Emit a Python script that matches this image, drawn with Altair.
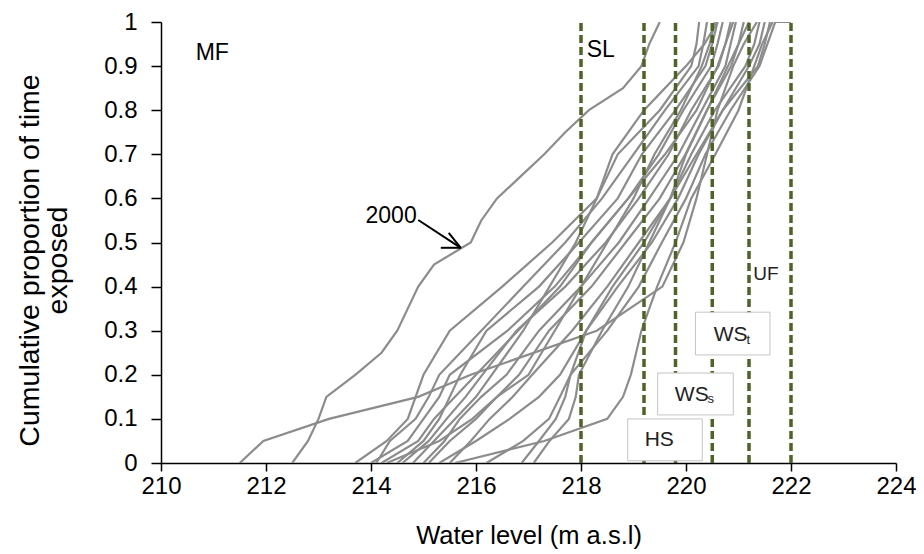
import altair as alt
import pandas as pd

# y levels (cumulative proportion) at which each curve's water level is read
Y14 = [0, 0.05, 0.1, 0.15, 0.2, 0.3, 0.4, 0.5, 0.6, 0.7, 0.8, 0.9, 0.95, 1.0]
Y21 = [0, 0.05, 0.1, 0.15, 0.2, 0.25, 0.3, 0.35, 0.4, 0.45, 0.5,
       0.55, 0.6, 0.65, 0.7, 0.75, 0.8, 0.85, 0.9, 0.95, 1.0]

# water level (m a.s.l) of each year's curve at those levels
c2000_x = [212.5, 212.8, 213.0, 213.15, 213.7, 214.2, 214.5, 214.7, 214.9, 215.2, 215.9,
           216.1, 216.4, 216.85, 217.3, 217.7, 218.15, 218.8, 219.15, 219.3, 219.5]
cB_x = [211.5, 211.95, 213.2, 214.9, 215.9, 218.3, 219.55, 219.95, 220.2, 220.4, 220.6, 220.9, 221.1, 221.35]
cC_x = [213.7, 214.3, 214.7, 214.85, 215.0, 215.5, 216.5, 217.45, 218.3, 218.7, 219.5, 220.1, 220.2, 220.25]
cD_x = [214.1, 214.36, 214.85, 215.1, 215.3, 216.1, 216.9, 217.7, 218.4, 219.0, 219.6, 220.24, 220.33, 220.4]
cE_x = [214.5, 215.0, 215.3, 215.5, 215.7, 216.2, 217.2, 217.96, 218.7, 219.16, 219.8, 220.37, 220.5, 220.6]
cF_x = [214.0, 214.7, 215.0, 215.3, 215.5, 216.6, 217.5, 218.2, 218.9, 219.48, 219.95, 220.48, 220.6, 220.7]
cG_x = [214.6, 215.1, 215.44, 215.8, 216.12, 216.77, 217.7, 218.47, 219.1, 219.67, 220.1, 220.62, 220.75, 220.85]
cH_x = [215.0, 215.4, 215.69, 216.1, 216.58, 217.2, 218.0, 218.72, 219.3, 219.86, 220.3, 220.75, 220.85, 220.95]
cI_x = [214.3, 215.3, 215.93, 216.4, 216.82, 217.39, 218.2, 218.85, 219.5, 219.99, 220.4, 220.86, 221.0, 221.1]
cJ_x = [215.5, 215.9, 216.26, 216.7, 217.07, 217.83, 218.5, 219.1, 219.7, 220.1, 220.55, 221.13, 221.3, 221.4]
cK_x = [215.3, 216.0, 216.64, 217.2, 217.6, 218.1, 218.7, 219.35, 219.85, 220.24, 220.7, 221.37, 221.5, 221.6]
cL_x = [216.2, 216.9, 217.39, 217.6, 217.8, 218.5, 219.1, 219.54, 220.0, 220.37, 220.85, 221.4, 221.55, 221.7, 222.0]
cL_y = [0, 0.05, 0.1, 0.15, 0.2, 0.3, 0.4, 0.5, 0.6, 0.7, 0.8, 0.9, 0.95, 1.0, 1.0]
cM_x = [215.6, 217.3, 218.5, 218.8, 218.95, 219.15, 219.45, 219.8, 220.1, 220.56, 221.0, 221.3, 221.45, 221.65]
cN_x = [216.87, 217.2, 217.52, 217.7, 217.8, 218.1, 218.6, 219.2, 219.7, 220.0, 220.4, 220.8, 221.0, 221.2]
cO_x = [214.8, 215.2, 215.6, 216.0, 216.3, 216.9, 217.4, 217.9, 218.3, 218.6, 219.2, 220.0, 220.35, 220.6]
cP_x = [214.2, 214.9, 215.2, 215.6, 216.0, 216.8, 217.6, 218.2, 218.9, 219.6, 220.2, 220.6, 220.75, 220.9]
cQ_x = [215.1, 215.5, 216.0, 216.4, 217.0, 217.5, 218.0, 218.5, 219.0, 219.4, 219.9, 220.3, 220.45, 220.55]
cR_x = [217.1, 217.4, 217.77, 217.9, 217.96, 218.4, 218.9, 219.3, 219.7, 220.2, 220.7, 221.2, 221.4, 221.5]

curves = {
    "2000": (c2000_x, Y21), "B": (cB_x, Y14), "C": (cC_x, Y14), "D": (cD_x, Y14),
    "E": (cE_x, Y14), "F": (cF_x, Y14), "G": (cG_x, Y14), "H": (cH_x, Y14),
    "I": (cI_x, Y14), "J": (cJ_x, Y14), "K": (cK_x, Y14), "L": (cL_x, cL_y),
    "M": (cM_x, Y14), "N": (cN_x, Y14), "O": (cO_x, Y14), "P": (cP_x, Y14),
    "Q": (cQ_x, Y14), "R": (cR_x, Y14),
}

# zone boundaries (dashed lines)
zone_x = [218.0, 219.2, 219.8, 220.5, 221.2, 222.0]

# labelled boxes
box_label = ["HS", "WS", "WS"]
box_sub = ["", "s", "t"]
box_x1 = [218.89, 219.46, 220.18]
box_x2 = [220.31, 220.90, 221.60]
box_y1 = [0.005, 0.109, 0.245]
box_y2 = [0.100, 0.204, 0.342]
box_tx = [219.49, 220.11, 220.85]
box_ty = [0.053, 0.155, 0.291]
sub_tx = [220.41, 221.15]
sub_ty = [0.136, 0.270]

# free labels
lab_text = ["MF", "SL"]
lab_x = [210.66, 218.11]
lab_y = [0.914, 0.92]

FONT = "Liberation Sans"
GRAY = "#8c8c8c"
GREEN = "#4f6228"

rows = []
for name, (xs, ys) in curves.items():
    for i, (xv, yv) in enumerate(zip(xs, ys)):
        rows.append({"curve": name, "i": i, "x": xv, "y": yv})
df = pd.DataFrame(rows)

xscale = alt.Scale(domain=[210, 224], nice=False, zero=False)
yscale = alt.Scale(domain=[0, 1], nice=False)

xaxis = alt.Axis(values=list(range(210, 225, 2)), format="d", title="Water level  (m a.s.l)",
                 grid=False, tickSize=8, labelFontSize=24, titleFontSize=25.5,
                 labelPadding=3, titleY=80, titleBaseline="alphabetic", labelFlush=False,
                 titleFontWeight="normal", labelFont=FONT, titleFont=FONT,
                 domainColor="black", tickColor="black", labelColor="black", titleColor="black")
yaxis = alt.Axis(values=[0, 0.1, 0.2, 0.3, 0.4, 0.5, 0.6, 0.7, 0.8, 0.9, 1.0], format=".1~f",
                 title=["Cumulative  proportion of time", "exposed"],
                 grid=False, tickSize=10, labelFontSize=24, titleFontSize=28.5, labelFlush=False,
                 labelPadding=14, titleX=-146, titleY=238, titleBaseline="top",
                 titleLineHeight=28, titleAngle=-90,
                 titleFontWeight="normal", labelFont=FONT, titleFont=FONT,
                 domainColor="black", tickColor="black", labelColor="black", titleColor="black")

lines = alt.Chart(df).mark_line(color=GRAY, strokeWidth=2.2, clip=True).encode(
    x=alt.X("x:Q", scale=xscale, axis=xaxis),
    y=alt.Y("y:Q", scale=yscale, axis=yaxis),
    detail="curve:N",
    order="i:Q",
)

zones = alt.Chart(pd.DataFrame({"x": zone_x})).mark_rule(
    color=GREEN, strokeWidth=3.5, strokeDash=[8, 4]).encode(
    x="x:Q", y=alt.datum(0), y2=alt.datum(1))

boxes_df = pd.DataFrame({"x1": box_x1, "x2": box_x2, "y1": box_y1, "y2": box_y2,
                         "tx": box_tx, "ty": box_ty, "label": box_label})
boxes = alt.Chart(boxes_df).mark_rect(fill="white", stroke="#c4c4c4", strokeWidth=1).encode(
    x="x1:Q", x2="x2:Q", y="y1:Q", y2="y2:Q")
box_text = alt.Chart(boxes_df).mark_text(font=FONT, fontSize=21, color="#222222",
                                         align="center", baseline="middle").encode(
    x="tx:Q", y="ty:Q", text="label:N")
sub_text = alt.Chart(pd.DataFrame({"x": sub_tx, "y": sub_ty, "t": box_sub[1:]})).mark_text(
    font=FONT, fontSize=13, color="#222222", align="left", baseline="alphabetic").encode(
    x="x:Q", y="y:Q", text="t:N")

labels = alt.Chart(pd.DataFrame({"x": lab_x, "y": lab_y, "t": lab_text})).mark_text(
    font=FONT, fontSize=23, color="black", align="left", baseline="alphabetic").encode(
    x="x:Q", y="y:Q", text="t:N")
uf = alt.Chart(pd.DataFrame({"x": [221.28], "y": [0.415], "t": ["UF"]})).mark_text(
    font=FONT, fontSize=19, color="#222222", align="left", baseline="alphabetic").encode(
    x="x:Q", y="y:Q", text="t:N")
yr = alt.Chart(pd.DataFrame({"x": [214.87], "y": [0.545], "t": ["2000"]})).mark_text(
    font=FONT, fontSize=23, color="black", align="right", baseline="alphabetic").encode(
    x="x:Q", y="y:Q", text="t:N")

# arrow pointing at the 2000 curve
arrow_df = pd.DataFrame({
    "x": [214.9, 215.48, 215.33], "y": [0.551, 0.522, 0.488],
    "x2": [215.71, 215.71, 215.71], "y2": [0.488, 0.488, 0.488]})
arrow = alt.Chart(arrow_df).mark_rule(color="black", strokeWidth=2).encode(
    x="x:Q", y="y:Q", x2="x2:Q", y2="y2:Q")

chart = alt.layer(lines, zones, boxes, box_text, sub_text, labels, uf, yr, arrow).properties(
    width=735, height=441,
    autosize=alt.AutoSizeParams(type="none"),
    padding={"left": 153, "top": 14, "right": 20, "bottom": 88},
).configure_view(stroke=None).configure_axis(domainWidth=1.5, tickWidth=1.5)

chart.save("out.html", embed_options={"renderer": "svg", "actions": False})
